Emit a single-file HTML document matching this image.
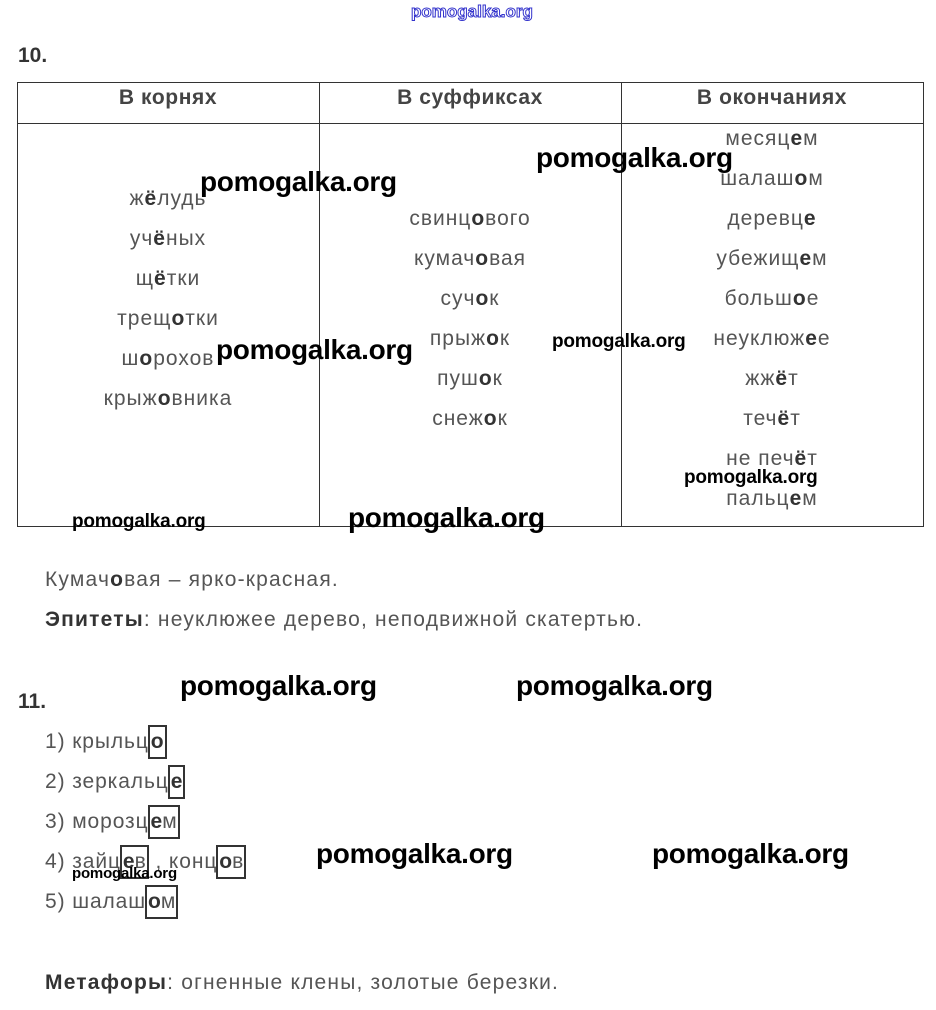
<!DOCTYPE html>
<html><head><meta charset="utf-8"><style>
body{margin:0;width:936px;height:1010px;background:#fff;position:relative;overflow:hidden;font-family:"Liberation Sans",Arial,sans-serif;color:#555}
.a{position:absolute;white-space:nowrap}
.t{font-size:21px;letter-spacing:1.2px}
.w{position:absolute;white-space:nowrap;font-weight:bold;color:#000;font-size:28px;letter-spacing:-0.3px;line-height:1}
.s{font-size:19px;letter-spacing:-0.2px}
.col{position:absolute;width:300px;text-align:center;font-size:21px;letter-spacing:1px;line-height:20px}
.col div{position:absolute;left:0;width:300px}
b{color:#333}
.bx{display:inline-block;border:2px solid #333;padding:0 1px;line-height:30px;margin-left:-1px;letter-spacing:0}
.h{position:absolute;top:86px;width:300px;text-align:center;font-weight:bold;font-size:21px;letter-spacing:0.6px;color:#444}
</style></head><body>
<div class="a" style="left:411px;top:2px;font-size:17px;color:#fff;-webkit-text-stroke:1px #33c;font-weight:bold">pomogalka.org</div>
<div class="a" style="left:18px;top:44px;font-size:21px;font-weight:bold;color:#333">10.</div>
<div style="position:absolute;left:17px;top:82px;width:905px;height:443px;border:1px solid #333"></div>
<div style="position:absolute;left:17px;top:123px;width:906px;height:1px;background:#333"></div>
<div style="position:absolute;left:319px;top:82px;width:1px;height:444px;background:#333"></div>
<div style="position:absolute;left:621px;top:82px;width:1px;height:444px;background:#333"></div>
<div class="h" style="left:18px">В корнях</div>
<div class="h" style="left:320px">В суффиксах</div>
<div class="h" style="left:622px">В окончаниях</div>
<div class="col" style="left:18px;top:189px">
<div style="top:0">ж<b>ё</b>лудь</div><div style="top:40px">уч<b>ё</b>ных</div><div style="top:80px">щ<b>ё</b>тки</div><div style="top:120px">трещ<b>о</b>тки</div><div style="top:160px">ш<b>о</b>рохов</div><div style="top:200px">крыж<b>о</b>вника</div></div>
<div class="col" style="left:320px;top:209px">
<div style="top:0">свинц<b>о</b>вого</div><div style="top:40px">кумач<b>о</b>вая</div><div style="top:80px">суч<b>о</b>к</div><div style="top:120px">прыж<b>о</b>к</div><div style="top:160px">пуш<b>о</b>к</div><div style="top:200px">снеж<b>о</b>к</div></div>
<div class="col" style="left:622px;top:129px">
<div style="top:0">месяц<b>е</b>м</div><div style="top:40px">шалаш<b>о</b>м</div><div style="top:80px">деревц<b>е</b></div><div style="top:120px">убежищ<b>е</b>м</div><div style="top:160px">больш<b>о</b>е</div><div style="top:200px">неуклюж<b>е</b>е</div><div style="top:240px">жж<b>ё</b>т</div><div style="top:280px">теч<b>ё</b>т</div><div style="top:320px">не печ<b>ё</b>т</div><div style="top:360px">пальц<b>е</b>м</div></div>
<div class="a t" style="left:45px;top:568px">Кумач<b>о</b>вая – ярко-красная.</div>
<div class="a t" style="left:45px;top:608px"><b>Эпитеты</b>: неуклюжее дерево, неподвижной скатертью.</div>
<div class="a" style="left:18px;top:690px;font-size:21px;font-weight:bold;color:#333">11.</div>
<div class="a t" style="left:45px;top:725px;line-height:34px;letter-spacing:0.9px">1) крыльц<span class="bx"><b>о</b></span></div>
<div class="a t" style="left:45px;top:765px;line-height:34px;letter-spacing:0.9px">2) зеркальц<span class="bx"><b>е</b></span></div>
<div class="a t" style="left:45px;top:805px;line-height:34px;letter-spacing:0.9px">3) морозц<span class="bx"><b>е</b>м</span></div>
<div class="a t" style="left:45px;top:845px;line-height:34px;letter-spacing:0.9px">4) зайц<span class="bx"><b>е</b>в</span> , конц<span class="bx"><b>о</b>в</span></div>
<div class="a t" style="left:45px;top:885px;line-height:34px;letter-spacing:0.9px">5) шалаш<span class="bx"><b>о</b>м</span></div>
<div class="a t" style="left:45px;top:971px"><b>Метафоры</b>: огненные клены, золотые березки.</div>
<div class="w" style="left:200px;top:168px">pomogalka.org</div>
<div class="w" style="left:536px;top:144px">pomogalka.org</div>
<div class="w" style="left:216px;top:336px">pomogalka.org</div>
<div class="w s" style="left:552px;top:332px">pomogalka.org</div>
<div class="w s" style="left:684px;top:468px">pomogalka.org</div>
<div class="w s" style="left:72px;top:512px">pomogalka.org</div>
<div class="w" style="left:348px;top:504px">pomogalka.org</div>
<div class="w" style="left:180px;top:672px">pomogalka.org</div>
<div class="w" style="left:516px;top:672px">pomogalka.org</div>
<div class="w" style="left:316px;top:840px">pomogalka.org</div>
<div class="w" style="left:652px;top:840px">pomogalka.org</div>
<div class="w" style="left:72px;top:866px;font-size:15px;letter-spacing:-0.2px">pomogalka.org</div>
</body></html>
